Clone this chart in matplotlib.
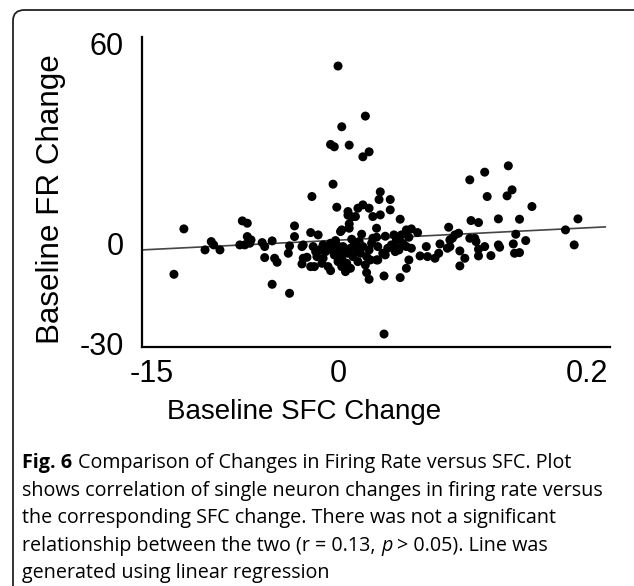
import numpy as np
import matplotlib.pyplot as plt
from matplotlib.patches import FancyBboxPatch

# valeurs (changement SFC, changement FR)
sfc_change = [
    0.000, 0.022, 0.003, -0.006, -0.003, 0.009, 0.025, 0.020, -0.004, -0.021,
    -0.001, 0.008, 0.008, 0.011, 0.016, 0.020, 0.025, 0.034, 0.033, 0.042,
    0.042, 0.034, 0.028, 0.014, 0.050, 0.055, -0.077, -0.073, -0.124, -0.035,
    -0.035, -0.022, -0.016, 0.002, 0.003, 0.009, 0.009, 0.019, 0.031, 0.031,
    0.038, 0.045, 0.051, 0.057, 0.059, 0.064, 0.059, 0.055, 0.050, 0.037,
    -0.132, -0.102, -0.100, -0.107, -0.095, -0.079, -0.073, -0.072, -0.075, -0.071,
    -0.061, -0.059, -0.053, -0.059, -0.051, -0.049, -0.053, -0.039, -0.040, -0.039,
    -0.028, -0.025, -0.029, -0.022, -0.019, -0.008, -0.006, 0.000, 0.003, 0.007,
    0.003, 0.023, 0.025, 0.037, -0.070, -0.029, -0.020, -0.012, -0.006, -0.004,
    -0.001, -0.028, -0.017, 0.000, 0.003, 0.006, 0.002, 0.023, 0.026, 0.032,
    0.038, 0.040, 0.049, 0.052, 0.047, 0.055, 0.057, 0.043, 0.046, 0.031,
    0.032, 0.036, 0.028,
    0.137, 0.118, 0.106, 0.140, 0.136, 0.120, 0.156, 0.107, 0.113, 0.129,
    0.146, 0.193, 0.183, 0.190, 0.143, 0.151, 0.141, 0.142, 0.146, 0.129,
    0.130, 0.123, 0.118, 0.113, 0.113, 0.111, 0.110, 0.106, 0.098, 0.102,
    0.098, 0.089, 0.097, 0.094, 0.090, 0.090, 0.088, 0.092, 0.082, 0.081,
    0.078, 0.071, 0.072, 0.066, 0.047, 0.053,
    -0.015, -0.010, -0.005, 0.000, 0.005, 0.010, 0.015, 0.018, 0.012, -0.012,
    -0.003, 0.008, 0.013, 0.020, 0.025, 0.004, -0.008, -0.018, 0.016, 0.010,
    0.006, -0.013, 0.027, 0.017, 0.022, -0.002, 0.011,
]
fr_change = [
    53.1, 38.1, 34.9, 29.6, 28.9, 29.4, 27.4, 25.9, 17.7, 14.0,
    10.8, 9.5, 8.4, 7.9, 10.5, 11.5, 10.5, 15.4, 13.1, 13.1,
    10.0, 8.5, 8.0, 8.0, 7.2, 4.0, 6.7, 6.0, 4.3, 5.2,
    2.0, 3.2, 2.5, 3.5, 4.0, 5.8, 4.5, 2.7, 4.5, 1.8,
    2.1, 2.5, 2.5, 1.8, 4.3, 3.2, -1.5, -7.5, -10.3, -27.2,
    -9.3, 0.5, -0.5, -2.0, -2.0, -0.5, 2.0, 0.5, -0.5, 0.0,
    0.2, -1.0, 0.7, -4.3, -4.5, -5.7, -12.3, -15.0, -3.0, -0.8,
    -0.5, -4.2, -6.2, -7.0, -7.0, -7.0, -8.2, -4.5, -6.0, -6.0,
    -7.0, -8.8, -10.8, -9.8, 1.0, -1.0, -1.0, -0.5, 0.0, -1.0,
    -0.5, -4.5, -4.0, -5.5, -4.5, -6.0, -3.0, -4.0, -5.0, -5.0,
    -3.5, -1.5, -2.0, 0.0, 1.0, -1.0, -5.0, -0.5, -2.5, -5.0,
    -1.0, -3.0, 1.5,
    23.2, 21.3, 19.0, 16.0, 14.2, 14.0, 11.0, 6.8, 6.2, 7.3,
    7.2, 7.3, 4.0, -0.5, 2.7, 0.8, -0.2, -3.0, -2.8, -0.5,
    -1.2, -3.7, -1.0, -1.8, -3.8, 0.5, 1.5, 1.5, -2.3, -4.5,
    -6.8, 4.8, 3.0, 2.5, 1.0, -1.0, -1.5, 1.5, -0.2, -3.0,
    -4.5, -1.0, -4.0, -3.8, -1.5, -0.5,
    -2.0, -2.5, -2.0, -1.5, -2.5, -1.5, -2.0, -3.0, -4.0, -4.5,
    -3.5, -3.0, -0.5, -1.0, -2.0, -1.0, -1.5, -2.5, -5.5, -7.5,
    -8.5, -6.0, 0.0, 0.5, -6.5, 0.8, 1.2,
]

# droite de regression lineaire
fit_slope = 18.5
fit_intercept = 0.92
fit_range = [-0.158, 0.215]

x_ticks = [-0.15, 0, 0.2]
x_tick_labels = ['-15', '0', '0.2']
y_ticks = [-30, 0, 60]
y_tick_labels = ['-30', '0', '60']

caption = [
    "shows correlation of single neuron changes in firing rate versus",
    "the corresponding SFC change. There was not a significant",
]

plt.rcParams['font.family'] = ['Liberation Sans', 'DejaVu Sans']

W, H = 634, 586
fig = plt.figure(figsize=(W / 100, H / 100), dpi=100)

# cadre arrondi autour de la figure
cadre = FancyBboxPatch((13 / W, -0.05), (W + 30) / W, 1 - 10 / H + 0.05,
                       boxstyle='round,pad=0,rounding_size=0.018',
                       transform=fig.transFigure, fill=False,
                       edgecolor='#222222', linewidth=1.3)
fig.patches.append(cadre)

ax = fig.add_axes([142 / W, 1 - 346.7 / H, (610 - 142) / W, (346.7 - 37) / H])
ax.scatter(sfc_change, fr_change, s=42, color='black', edgecolors='none', zorder=3)

xf = np.array(fit_range)
ax.plot(xf, fit_intercept + fit_slope * xf, color='#444444', lw=1.2, zorder=2)

ax.set_xlim(-0.1577, 0.2188)
ax.set_ylim(-31, 61.8)
for s in ['top', 'right']:
    ax.spines[s].set_visible(False)
for s in ['left', 'bottom']:
    ax.spines[s].set_linewidth(1.6)

ax.set_xticks(x_ticks, x_tick_labels, fontsize=22)
ax.set_yticks(y_ticks, y_tick_labels, fontsize=22)
ax.tick_params(axis='both', which='major', length=0)
ax.tick_params(axis='x', which='major', pad=9)
ax.tick_params(axis='y', which='major', pad=13)
ax.set_xticks([0], minor=True)
ax.set_yticks([0], minor=True)
ax.tick_params(which='minor', direction='in', length=7, width=1.3)

fig.text(51 / W, 1 - 199 / H, 'Baseline FR Change', rotation=90,
         ha='center', va='center', fontsize=22.6)
fig.text(304 / W, 1 - 419 / H, 'Baseline SFC Change',
         ha='center', va='baseline', fontsize=20)

# legende sous la figure
cap_size = 14.2
cap_family = ['Open Sans', 'DejaVu Sans']
cap_font = dict(family=cap_family, fontsize=cap_size, va='baseline')
x0 = 22 / W
t = fig.text(x0, 1 - 468 / H, 'Fig. 6', weight='bold', **cap_font)
ax.annotate('Comparison of Changes in Firing Rate versus SFC. Plot', xy=(1, 0),
            xycoords=t, xytext=(4, 0), textcoords='offset points',
            ha='left', va='bottom', family=cap_family, fontsize=cap_size)
fig.text(x0, 1 - 496 / H, caption[0], **cap_font)
fig.text(x0, 1 - 523 / H, caption[1], **cap_font)
t = fig.text(x0, 1 - 551 / H, 'relationship between the two (r = 0.13,', **cap_font)
t = ax.annotate('p', xy=(1, 0), xycoords=t, xytext=(4, 0), textcoords='offset points',
                ha='left', va='bottom', style='italic',
                family=cap_family, fontsize=cap_size)
ax.annotate('> 0.05). Line was', xy=(1, 0), xycoords=t, xytext=(3, 0),
            textcoords='offset points', ha='left', va='bottom',
            family=cap_family, fontsize=cap_size)
fig.text(x0, 1 - 578 / H, 'generated using linear regression', **cap_font)

fig.savefig('out.png', dpi=100)
